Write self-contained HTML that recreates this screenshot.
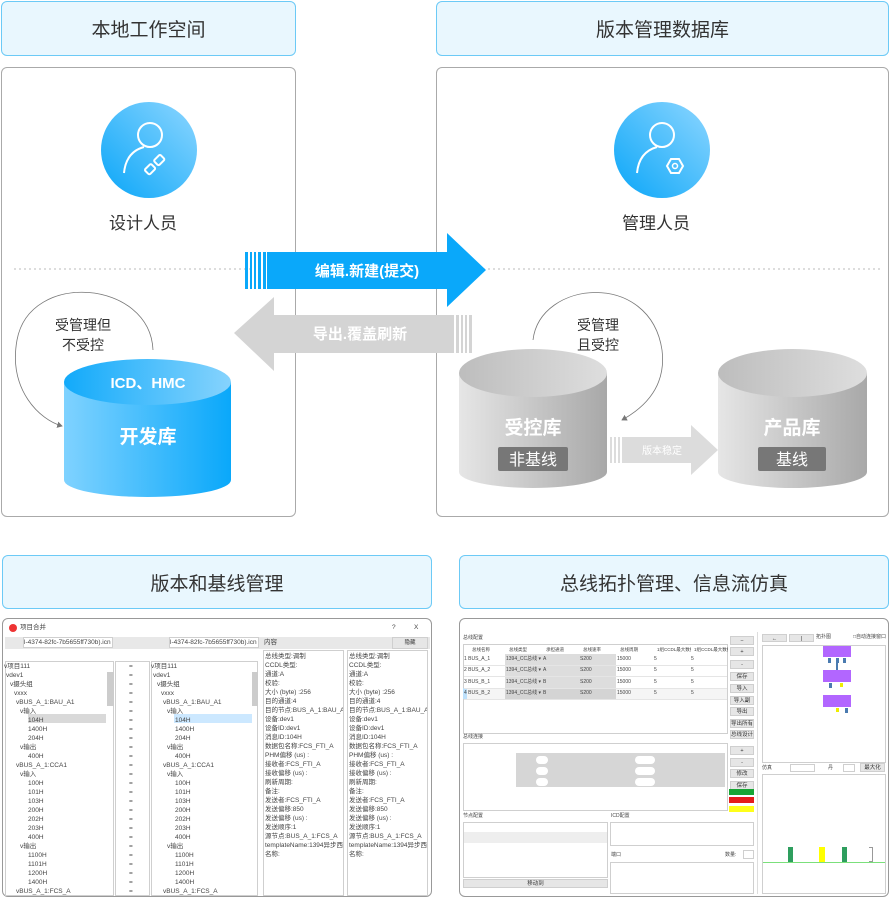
<!DOCTYPE html>
<html><head><meta charset="utf-8">
<style>
*{margin:0;padding:0;box-sizing:border-box}
body{width:890px;height:897px;background:#fff;position:relative;overflow:hidden;font-family:"Liberation Sans","Noto Sans CJK SC",sans-serif;color:#333}
.a{position:absolute}
.hdr{position:absolute;background:#e9f7fe;border:1.5px solid #6ccaf6;border-radius:6px;display:flex;align-items:center;justify-content:center;font-size:19px;color:#333}
.pnl{position:absolute;border:1.5px solid #aaa;border-radius:6px}
.t{position:absolute;font-size:6.5px;color:#444;white-space:nowrap;line-height:9px}
.win{position:absolute;border:1.5px solid #999;border-radius:6px;background:#fff;overflow:hidden}
.g{position:absolute;background:#e8e8e8}
.bd{position:absolute;border:1px solid #cfcfcf;background:#fff}
.btn{position:absolute;background:#e6e6e6;border:1px solid #cfcfcf;font-size:5.5px;text-align:center;line-height:8px;color:#333;white-space:nowrap;overflow:hidden}
</style></head><body>

<div class="hdr" style="left:1px;top:1px;width:295px;height:55px">本地工作空间</div>
<div class="hdr" style="left:436px;top:1px;width:453px;height:55px">版本管理数据库</div>
<div class="pnl" style="left:1px;top:67px;width:295px;height:450px"></div>
<div class="pnl" style="left:436px;top:67px;width:453px;height:450px"></div>

<svg class="a" style="left:0;top:0" width="890" height="530">
<defs>
<linearGradient id="bc" x1="0" y1="1" x2="1" y2="0"><stop offset="0" stop-color="#0aa6f8"/><stop offset="1" stop-color="#8dd6ff"/></linearGradient>
<linearGradient id="cy" x1="0" x2="1"><stop offset="0" stop-color="#7fd2ff"/><stop offset="1" stop-color="#0aa8fa"/></linearGradient>
<linearGradient id="cyt" x1="0" x2="1"><stop offset="0" stop-color="#12aafa"/><stop offset="1" stop-color="#86d3fd"/></linearGradient>
<linearGradient id="gy" x1="0" x2="1"><stop offset="0" stop-color="#e6e6e6"/><stop offset="1" stop-color="#a8a8a8"/></linearGradient>
<linearGradient id="gyt" x1="0" x2="1"><stop offset="0" stop-color="#bdbdbd"/><stop offset="1" stop-color="#dedede"/></linearGradient>
<marker id="ah" markerWidth="8" markerHeight="8" refX="6" refY="4" orient="auto"><path d="M0,0 L7,4 L0,8 z" fill="#777"/></marker>
</defs>
<circle cx="149" cy="150" r="48" fill="url(#bc)"/>
<circle cx="150" cy="135" r="12" fill="none" stroke="#fff" stroke-width="2"/>
<path d="M124,173 Q126,152 144,147" fill="none" stroke="#fff" stroke-width="2"/>
<g transform="rotate(-45 155 165)" fill="none" stroke="#fff" stroke-width="2"><rect x="144" y="161" width="9" height="7" rx="1.5"/><rect x="157" y="161" width="9" height="7" rx="1.5"/></g>
<circle cx="662" cy="150" r="48" fill="url(#bc)"/>
<circle cx="662" cy="135" r="12" fill="none" stroke="#fff" stroke-width="2"/>
<path d="M637,173 Q639,152 657,147" fill="none" stroke="#fff" stroke-width="2"/>
<polygon points="667,166 671,159 679,159 683,166 679,173 671,173" fill="none" stroke="#fff" stroke-width="2"/>
<circle cx="675" cy="166" r="2.5" fill="none" stroke="#fff" stroke-width="1.5"/>
<line x1="14" y1="269" x2="290" y2="269" stroke="#bbb" stroke-dasharray="2,3"/>
<line x1="438" y1="269" x2="880" y2="269" stroke="#bbb" stroke-dasharray="2,3"/>
<polygon points="267,252 447,252 447,233 486,270 447,307 447,289 267,289" fill="#0aa8fa"/>
<rect x="245" y="252" width="3" height="37" fill="#0aa8fa"/><rect x="250" y="252" width="2" height="37" fill="#0aa8fa"/><rect x="254" y="252" width="2" height="37" fill="#0aa8fa"/><rect x="258" y="252" width="3" height="37" fill="#0aa8fa"/><rect x="263" y="252" width="3" height="37" fill="#0aa8fa"/>
<text x="367" y="276" font-size="15" fill="#fff" text-anchor="middle" font-weight="bold" font-family="Liberation Sans,Noto Sans CJK SC,sans-serif">编辑.新建(提交)</text>
<polygon points="454,315 274,315 274,297 234,333 274,371 274,353 454,353" fill="#d4d4d4"/>
<rect x="456" y="315" width="3" height="38" fill="#d4d4d4"/><rect x="461" y="315" width="2" height="38" fill="#d4d4d4"/><rect x="465" y="315" width="2" height="38" fill="#d4d4d4"/><rect x="469" y="315" width="3" height="38" fill="#d4d4d4"/>
<text x="360" y="339" font-size="15" fill="#fff" text-anchor="middle" font-weight="bold" font-family="Liberation Sans,Noto Sans CJK SC,sans-serif">导出.覆盖刷新</text>
<path d="M153,350 C150,280 30,270 17,340 C8,390 40,420 62,426" fill="none" stroke="#777" stroke-width="0.8" marker-end="url(#ah)"/>
<path d="M533,340 C540,280 650,270 662,350 C667,390 640,410 622,420" fill="none" stroke="#777" stroke-width="0.8" marker-end="url(#ah)"/>
<text x="83" y="330" font-size="14" fill="#333" text-anchor="middle" font-family="Liberation Sans,Noto Sans CJK SC,sans-serif">受管理但</text>
<text x="83" y="350" font-size="14" fill="#333" text-anchor="middle" font-family="Liberation Sans,Noto Sans CJK SC,sans-serif">不受控</text>
<text x="598" y="330" font-size="14" fill="#333" text-anchor="middle" font-family="Liberation Sans,Noto Sans CJK SC,sans-serif">受管理</text>
<text x="598" y="350" font-size="14" fill="#333" text-anchor="middle" font-family="Liberation Sans,Noto Sans CJK SC,sans-serif">且受控</text>
<path d="M64,382 L64,480 A83.5,17 0 0 0 231,480 L231,382 z" fill="url(#cy)"/>
<ellipse cx="147.5" cy="382" rx="83.5" ry="23" fill="url(#cyt)"/>
<text x="148" y="388" font-size="15" fill="#fff" text-anchor="middle" font-weight="bold" font-family="Liberation Sans,Noto Sans CJK SC,sans-serif">ICD、HMC</text>
<text x="148" y="443" font-size="19" fill="#fff" text-anchor="middle" font-weight="bold" font-family="Liberation Sans,Noto Sans CJK SC,sans-serif">开发库</text>
<path d="M459,373 L459,472 A74,16 0 0 0 607,472 L607,373 z" fill="url(#gy)"/>
<ellipse cx="533" cy="373" rx="74" ry="24" fill="url(#gyt)"/>
<text x="533" y="434" font-size="19" fill="#fff" text-anchor="middle" font-weight="bold" font-family="Liberation Sans,Noto Sans CJK SC,sans-serif">受控库</text>
<rect x="498" y="447" width="70" height="24" rx="2" fill="#777"/>
<text x="533" y="465" font-size="16" fill="#fff" text-anchor="middle" font-family="Liberation Sans,Noto Sans CJK SC,sans-serif">非基线</text>
<path d="M718,373 L718,472 A74.5,16 0 0 0 867,472 L867,373 z" fill="url(#gy)"/>
<ellipse cx="792.5" cy="373" rx="74.5" ry="24" fill="url(#gyt)"/>
<text x="792" y="434" font-size="19" fill="#fff" text-anchor="middle" font-weight="bold" font-family="Liberation Sans,Noto Sans CJK SC,sans-serif">产品库</text>
<rect x="758" y="447" width="68" height="24" rx="2" fill="#777"/>
<text x="792" y="465" font-size="16" fill="#fff" text-anchor="middle" font-family="Liberation Sans,Noto Sans CJK SC,sans-serif">基线</text>
<polygon points="622,437 691,437 691,425 718,450 691,475 691,463 622,463" fill="#dcdcdc"/>
<rect x="610" y="437" width="2" height="26" fill="#dcdcdc"/><rect x="614" y="437" width="2" height="26" fill="#dcdcdc"/><rect x="618" y="437" width="2" height="26" fill="#dcdcdc"/>
<text x="662" y="454" font-size="10" fill="#fff" text-anchor="middle" font-family="Liberation Sans,Noto Sans CJK SC,sans-serif">版本稳定</text>
</svg>
<div class="a" style="left:109px;top:209px;font-size:17px">设计人员</div>
<div class="a" style="left:622px;top:209px;font-size:17px">管理人员</div>

<div class="hdr" style="left:2px;top:555px;width:430px;height:54px">版本和基线管理</div>
<div class="hdr" style="left:459px;top:555px;width:430px;height:54px">总线拓扑管理、信息流仿真</div>

<div class="win" style="left:2px;top:618px;width:430px;height:279px"></div>
<div class="a" style="left:9px;top:624px;width:8px;height:8px;border-radius:50%;background:#e33"></div>
<div class="t" style="left:20px;top:623px">项目合并</div>
<div class="t" style="left:392px;top:623px">?</div><div class="t" style="left:414px;top:623px">X</div>
<div class="g" style="left:5px;top:637px;width:425px;height:12px"></div>
<div class="bd" style="left:23px;top:637px;width:90px;height:11px"></div>
<div class="t" style="left:24px;top:638px">l-4374-82fc-7b5655ff730b).icn</div>
<div class="bd" style="left:169px;top:637px;width:90px;height:11px"></div>
<div class="t" style="left:170px;top:638px">l-4374-82fc-7b5655ff730b).icn</div>
<div class="t" style="left:264px;top:638px">内容</div>
<div class="btn" style="left:392px;top:637px;width:36px;height:12px;line-height:11px">隐藏</div>
<div class="bd" style="left:5px;top:661px;width:109px;height:235px"></div>
<div class="g" style="left:107px;top:672px;width:7px;height:34px;background:#ccc"></div>
<div class="bd" style="left:115px;top:661px;width:35px;height:235px"></div>
<div class="bd" style="left:151px;top:661px;width:107px;height:235px"></div>
<div class="g" style="left:252px;top:672px;width:6px;height:34px;background:#ccc"></div>
<div class="a" style="left:28px;top:714px;width:78px;height:9px;background:#d9d9d9"></div>
<div class="a" style="left:174px;top:714px;width:78px;height:9px;background:#cce8ff"></div>
<div class="bd" style="left:263px;top:650px;width:81px;height:246px"></div>
<div class="bd" style="left:347px;top:650px;width:81px;height:246px"></div>
<div id="trees"></div>
<script>
var rows=[["项目111",6],["dev1",8],["摄头组",12],["xxx",16],["BUS_A_1:BAU_A1",18],["输入",22],["104H",30],["1400H",30],["204H",30],["输出",22],["400H",30],["BUS_A_1:CCA1",18],["输入",22],["100H",30],["101H",30],["103H",30],["200H",30],["202H",30],["203H",30],["400H",30],["输出",22],["1100H",30],["1101H",30],["1200H",30],["1400H",30],["BUS_A_1:FCS_A",18]];
var h="";
rows.forEach(function(r,i){var y=662+i*9;var p=(r[1]<30)?"v":"";
h+='<div class="t" style="left:'+(r[1]-2)+'px;top:'+y+'px">'+p+r[0]+'</div>';
h+='<div class="t" style="left:'+(r[1]+145)+'px;top:'+y+'px">'+p+r[0]+'</div>';
h+='<div class="t" style="left:129px;top:'+y+'px">=</div>';});
var d=["总线类型:调制","CCDL类型:","通道:A","校验:","大小 (byte) :256","目的通道:4","目的节点:BUS_A_1:BAU_A1","设备:dev1","设备ID:dev1","消息ID:104H","数据包名称:FCS_FTI_A","PHM偏移 (us) :","接收者:FCS_FTI_A","接收偏移 (us) :","刷新周期:","备注:","发送者:FCS_FTI_A","发送偏移:850","发送偏移 (us) :","发送顺序:1","源节点:BUS_A_1:FCS_A","templateName:1394异步西","名称:"];
d.forEach(function(s,i){var y=652+i*9;h+='<div class="t" style="left:265px;top:'+y+'px;width:78px;overflow:hidden">'+s+'</div><div class="t" style="left:349px;top:'+y+'px;width:78px;overflow:hidden">'+s+'</div>';});
document.getElementById("trees").innerHTML=h;
</script>

<div class="win" style="left:459px;top:618px;width:430px;height:279px"></div>
<div class="t" style="left:463px;top:634px;font-size:5px">总线配置</div>
<div class="bd" style="left:463px;top:644px;width:265px;height:90px"></div>
<div class="g" style="left:505px;top:654px;width:111px;height:46px;background:#ddd"></div>
<div class="a" style="left:464px;top:688px;width:263px;height:11px;background:rgba(0,0,0,0.04)"></div>
<div class="a" style="left:463px;top:688px;width:4px;height:11px;background:#bde0fb"></div>
<div id="rt"></div>
<div class="t" style="left:463px;top:733px;font-size:5px">总线连接</div>
<div class="bd" style="left:463px;top:743px;width:265px;height:68px"></div>
<div class="g" style="left:516px;top:753px;width:209px;height:34px;background:#d6d6d6"></div>
<div class="a" style="left:536px;top:756px;width:12px;height:8px;background:#fff;border-radius:4px"></div>
<div class="a" style="left:536px;top:767px;width:12px;height:8px;background:#fff;border-radius:4px"></div>
<div class="a" style="left:536px;top:778px;width:12px;height:8px;background:#fff;border-radius:4px"></div>
<div class="a" style="left:635px;top:756px;width:20px;height:8px;background:#fff;border-radius:4px"></div>
<div class="a" style="left:635px;top:767px;width:20px;height:8px;background:#fff;border-radius:4px"></div>
<div class="a" style="left:635px;top:778px;width:20px;height:8px;background:#fff;border-radius:4px"></div>
<div class="a" style="left:729px;top:789px;width:25px;height:6px;background:#18a535"></div>
<div class="a" style="left:729px;top:797px;width:25px;height:6px;background:#e51c1c"></div>
<div class="a" style="left:729px;top:806px;width:25px;height:6px;background:#ffff1a"></div>
<div class="t" style="left:463px;top:812px;font-size:5px">节点配置</div>
<div class="bd" style="left:463px;top:822px;width:145px;height:56px"></div>
<div class="a" style="left:464px;top:832px;width:143px;height:11px;background:#eee"></div>
<div class="btn" style="left:463px;top:879px;width:145px;height:9px">移动到</div>
<div class="t" style="left:611px;top:812px;font-size:5px">ICD配置</div>
<div class="bd" style="left:610px;top:822px;width:144px;height:24px"></div>
<div class="t" style="left:611px;top:851px;font-size:5px">端口</div>
<div class="t" style="left:725px;top:851px;font-size:5px">数量:</div>
<div class="bd" style="left:743px;top:850px;width:11px;height:9px"></div>
<div class="bd" style="left:610px;top:862px;width:144px;height:32px"></div>
<div class="a" style="left:757px;top:632px;width:1px;height:262px;background:#ddd"></div>
<div class="btn" style="left:762px;top:634px;width:25px;height:8px">←</div>
<div class="btn" style="left:789px;top:634px;width:25px;height:8px">|</div>
<div class="t" style="left:816px;top:633px;font-size:5px">拓扑图</div>
<div class="t" style="left:853px;top:633px;font-size:5px">□自动连接窗口</div>
<div class="bd" style="left:762px;top:645px;width:124px;height:118px"></div>
<div class="a" style="left:823px;top:646px;width:28px;height:11px;background:#b266ff"></div>
<div class="a" style="left:823px;top:670px;width:28px;height:12px;background:#b266ff"></div>
<div class="a" style="left:823px;top:695px;width:28px;height:12px;background:#b266ff"></div>
<div class="a" style="left:828px;top:658px;width:3px;height:5px;background:#4a7bb0"></div>
<div class="a" style="left:836px;top:658px;width:3px;height:5px;background:#4a7bb0"></div>
<div class="a" style="left:843px;top:658px;width:3px;height:5px;background:#4a7bb0"></div>
<div class="a" style="left:836px;top:663px;width:2px;height:7px;background:#4a7bb0"></div>
<div class="a" style="left:829px;top:683px;width:3px;height:5px;background:#4a7bb0"></div>
<div class="a" style="left:840px;top:683px;width:3px;height:4px;background:#ee0"></div>
<div class="a" style="left:836px;top:708px;width:3px;height:4px;background:#ee0"></div>
<div class="a" style="left:845px;top:708px;width:3px;height:5px;background:#4a7bb0"></div>
<div class="t" style="left:762px;top:764px;font-size:5px">仿真</div>
<div class="bd" style="left:790px;top:764px;width:25px;height:8px"></div>
<div class="t" style="left:828px;top:764px;font-size:5px">丹</div>
<div class="bd" style="left:843px;top:764px;width:12px;height:8px"></div>
<div class="btn" style="left:860px;top:763px;width:25px;height:9px">最大化</div>
<div class="bd" style="left:762px;top:774px;width:124px;height:120px"></div>
<div class="a" style="left:763px;top:862px;width:122px;height:1px;background:#7be07b"></div>
<div class="a" style="left:788px;top:847px;width:5px;height:15px;background:#2e9e5e"></div>
<div class="a" style="left:819px;top:847px;width:6px;height:15px;background:#ff0"></div>
<div class="a" style="left:842px;top:847px;width:5px;height:15px;background:#2e9e5e"></div>
<div class="a" style="left:869px;top:847px;width:4px;height:15px;border:1px solid #999;border-left:none"></div>
<script>
var s="",cols=[468,505,542,579,616,653,690],hd=["总线名称","总线类型","承担通道","总线速率","总线周期","1组CCDL最大数据","1组CCDL最大数据"];
hd.forEach(function(c,i){s+='<div class="t" style="left:'+(cols[i]+4)+'px;top:645px;font-size:4.5px;width:34px;overflow:hidden">'+c+'</div>';});
var nm=["BUS_A_1","BUS_A_2","BUS_B_1","BUS_B_2"],ch=["A","A","B","B"];
nm.forEach(function(n,i){var y=655+i*11.3;s+='<div class="t" style="left:464px;top:'+y+'px;font-size:5px">'+(i+1)+' '+n+'</div><div class="t" style="left:506px;top:'+y+'px;font-size:5px">1394_CC总线 ▾</div><div class="t" style="left:543px;top:'+y+'px;font-size:5px">'+ch[i]+'</div><div class="t" style="left:580px;top:'+y+'px;font-size:5px">S200</div><div class="t" style="left:617px;top:'+y+'px;font-size:5px">15000</div><div class="t" style="left:654px;top:'+y+'px;font-size:5px">5</div><div class="t" style="left:691px;top:'+y+'px;font-size:5px">5</div>';
s+='<div class="a" style="left:464px;top:'+(y+10)+'px;width:263px;height:1px;background:#e5e5e5"></div>';});
var b=[["−",636],["+",647],["-",660],["保存",672],["导入",684],["导入副",696],["导出",707],["导出所有",719],["总线设计界面",730],["+",746],["-",758],["修改",769],["保存",781]];
b.forEach(function(x){s+='<div class="btn" style="left:730px;top:'+x[1]+'px;width:24px;height:9px">'+x[0]+'</div>';});
["连线序号","节点1","端口1","节点2","端口2"].forEach(function(c,i){s+='<div class="t" style="left:'+(480+i*53)+'px;top:744px;font-size:5px">'+c+'</div>';});
["1","2","3"].forEach(function(c,i){s+='<div class="t" style="left:465px;top:'+(755+i*11)+'px;font-size:5px">'+c+'</div>';});
["节点名称","类型","通道号"].forEach(function(c,i){s+='<div class="t" style="left:'+(480+i*47)+'px;top:823px;font-size:5px">'+c+'</div>';});
["1 BUS_B_0","2 BUS_B_2","3 BUS_B_2?"].forEach(function(c,i){s+='<div class="t" style="left:465px;top:'+(833+i*11)+'px;font-size:5px">'+c+'</div><div class="t" style="left:514px;top:'+(833+i*11)+'px;font-size:5px">'+(i==2?"CC":"RN")+'</div><div class="t" style="left:562px;top:'+(833+i*11)+'px;font-size:5px">0</div>';});
["序号","名称","状态","属性"].forEach(function(c,i){s+='<div class="t" style="left:'+(625+i*36)+'px;top:863px;font-size:5px">'+c+'</div>';});
document.getElementById("rt").innerHTML=s;
</script>
</body></html>
